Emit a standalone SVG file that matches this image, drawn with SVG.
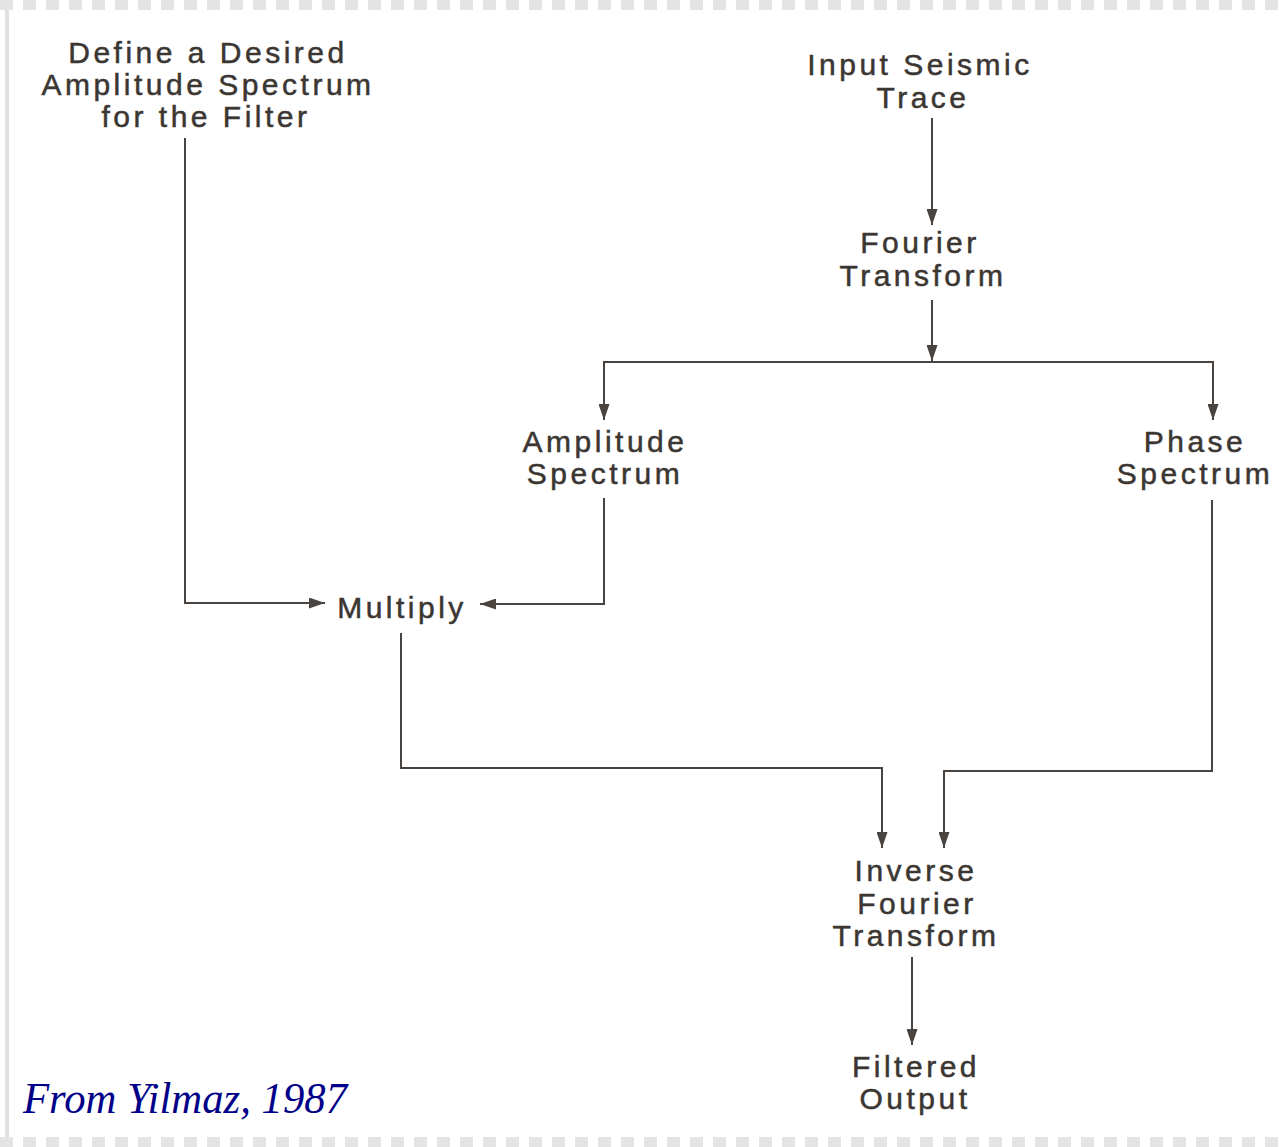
<svg xmlns="http://www.w3.org/2000/svg" width="1279" height="1147" viewBox="0 0 1279 1147">
<style>
.t{font-family:"Liberation Sans",Arial,sans-serif;font-size:30px;letter-spacing:3.5px;fill:#3b3632;stroke:#3b3632;stroke-width:0.5px;text-anchor:middle}
.c{fill:none;stroke:#4a4440;stroke-width:2}
.cite{font-family:"Liberation Serif","Times New Roman",serif;font-style:italic;font-size:44px;fill:#000088}
</style>
<defs>
<marker id="ah" viewBox="0 0 16 11" refX="16" refY="5.5" markerWidth="16" markerHeight="11" markerUnits="userSpaceOnUse" orient="auto">
<path d="M0,0 L16,5.5 L0,11 Z" fill="#4a4440"/>
</marker>
</defs>
<rect width="1279" height="1147" fill="#ffffff"/>
<g id="border">
<line x1="0" y1="5" x2="1279" y2="5" stroke="#e4e4e4" stroke-width="10" stroke-dasharray="13 10"/>
<line x1="0" y1="1142" x2="1279" y2="1142" stroke="#e4e4e4" stroke-width="10" stroke-dasharray="13 10"/>
<line x1="7" y1="10" x2="7" y2="1137" stroke="#e0e0e0" stroke-width="4"/>
</g>
<g id="connectors">
<path class="c" d="M932,118 V225" marker-end="url(#ah)"/>
<path class="c" d="M932,300 V361" marker-end="url(#ah)"/>
<path class="c" d="M604,420 V362 H1213 V420" marker-end="url(#ah)"/>
<path class="c" d="M604,362 V420" marker-end="url(#ah)"/>
<path class="c" d="M185,138 V603 H325" marker-end="url(#ah)"/>
<path class="c" d="M604,498 V604 H480" marker-end="url(#ah)"/>
<path class="c" d="M401,633 V768 H882 V848" marker-end="url(#ah)"/>
<path class="c" d="M1212,500 V771 H944 V848" marker-end="url(#ah)"/>
<path class="c" d="M912,957 V1045" marker-end="url(#ah)"/>
</g>
<g id="node-define">
<text class="t" x="208" y="63">Define a Desired</text>
<text class="t" x="208" y="95">Amplitude Spectrum</text>
<text class="t" x="206" y="127">for the Filter</text>
</g>
<g id="node-input">
<text class="t" x="920" y="75">Input Seismic</text>
<text class="t" x="923" y="108">Trace</text>
</g>
<g id="node-fourier">
<text class="t" x="920" y="253">Fourier</text>
<text class="t" x="923" y="286">Transform</text>
</g>
<g id="node-amplitude">
<text class="t" x="605" y="452">Amplitude</text>
<text class="t" x="605" y="484">Spectrum</text>
</g>
<g id="node-phase">
<text class="t" x="1195" y="452">Phase</text>
<text class="t" x="1195" y="484">Spectrum</text>
</g>
<g id="node-multiply">
<text class="t" x="402" y="618">Multiply</text>
</g>
<g id="node-inverse">
<text class="t" x="916" y="881">Inverse</text>
<text class="t" x="917" y="914">Fourier</text>
<text class="t" x="916" y="946">Transform</text>
</g>
<g id="node-output">
<text class="t" x="916" y="1077">Filtered</text>
<text class="t" x="915" y="1109">Output</text>
</g>
<g id="citation">
<text class="cite" x="23" y="1113" textLength="324" lengthAdjust="spacingAndGlyphs">From Yilmaz, 1987</text>
</g>
</svg>
